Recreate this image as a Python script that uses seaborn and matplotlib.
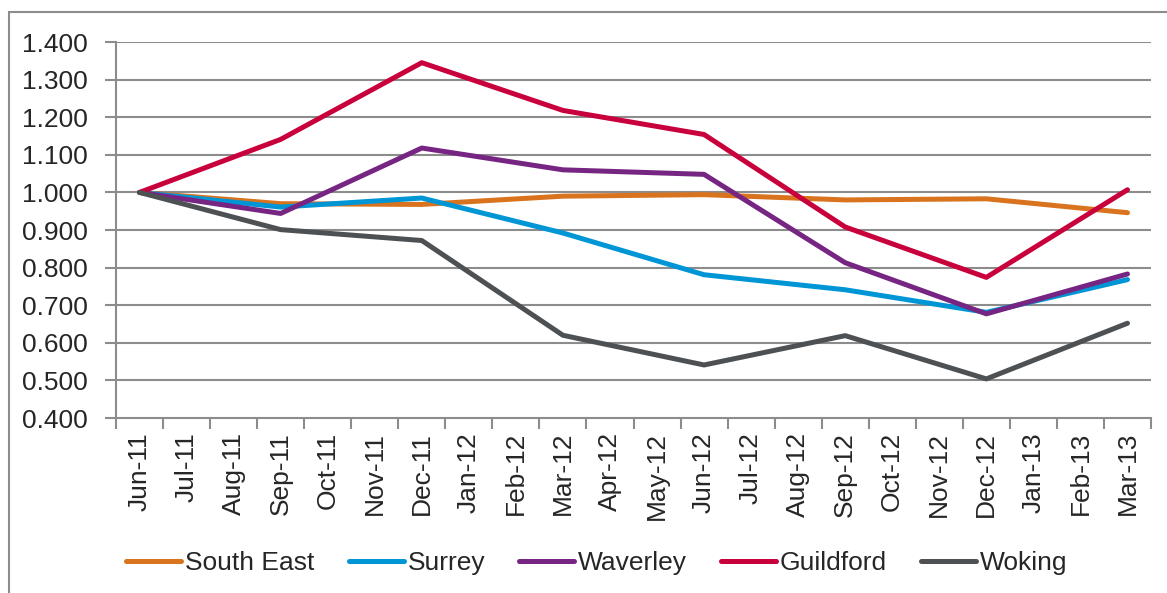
# import libraries
import pandas as pd
import numpy as np
import seaborn as sns
import matplotlib.pyplot as plt
from matplotlib.patches import Rectangle
from matplotlib.ticker import FixedLocator

# monthly category axis, data only every quarter
months = ['Jun-11', 'Jul-11', 'Aug-11', 'Sep-11', 'Oct-11', 'Nov-11', 'Dec-11',
          'Jan-12', 'Feb-12', 'Mar-12', 'Apr-12', 'May-12', 'Jun-12', 'Jul-12',
          'Aug-12', 'Sep-12', 'Oct-12', 'Nov-12', 'Dec-12', 'Jan-13', 'Feb-13', 'Mar-13']
quarters = ['Jun-11', 'Sep-11', 'Dec-11', 'Mar-12', 'Jun-12', 'Sep-12', 'Dec-12', 'Mar-13']

south_east = [1.000, 0.970, 0.968, 0.990, 0.994, 0.980, 0.983, 0.946]
surrey = [1.000, 0.961, 0.985, 0.892, 0.781, 0.741, 0.681, 0.768]
waverley = [1.000, 0.944, 1.118, 1.060, 1.048, 0.813, 0.677, 0.783]
guildford = [1.000, 1.141, 1.345, 1.218, 1.154, 0.908, 0.774, 1.007]
woking = [1.000, 0.901, 0.872, 0.620, 0.541, 0.619, 0.504, 0.652]

series_names = ['South East', 'Surrey', 'Waverley', 'Guildford', 'Woking']
colors = ['#D9731E', '#0096D6', '#772583', '#C8003C', '#4D5154']
y_ticks = [0.4, 0.5, 0.6, 0.7, 0.8, 0.9, 1.0, 1.1, 1.2, 1.3, 1.4]

# long format table for seaborn
rows = []
for name, vals in zip(series_names, [south_east, surrey, waverley, guildford, woking]):
    for q, v in zip(quarters, vals):
        rows.append({'series': name, 'pos': months.index(q), 'value': v})
df = pd.DataFrame(rows)

sns.set_style("white")
plt.rcParams['font.family'] = ['Liberation Sans', 'DejaVu Sans']
fs = 19

fig = plt.figure(figsize=(11.67, 5.93), dpi=100)
ax = fig.add_axes([116 / 1167, 1 - 418 / 593, (1151 - 116) / 1167, (418 - 42) / 593])

grid_col = '#8C8C8C'
for y in y_ticks[1:]:
    ax.axhline(y, color=grid_col, linewidth=1.5, zorder=0)

sns.lineplot(data=df, x='pos', y='value', hue='series', hue_order=series_names,
             palette=colors, linewidth=3.6, ax=ax, legend=True,
             solid_joinstyle='round', solid_capstyle='round')

ax.set_xlim(-0.5, len(months) - 0.5)
ax.set_ylim(0.4, 1.4)
ax.set_xlabel('')
ax.set_ylabel('')

# y axis
ax.set_yticks(y_ticks)
ax.set_yticklabels([f"{t:.3f}" for t in y_ticks])
ax.tick_params(axis='y', which='major', length=8, width=1.5, color=grid_col,
               pad=12, labelsize=fs, left=True)

# x axis: labels at centers, tick marks between categories
ax.set_xticks(range(len(months)))
ax.set_xticklabels(months, rotation=90)
ax.xaxis.set_minor_locator(FixedLocator(np.arange(-0.5, len(months), 1)))
ax.tick_params(axis='x', which='major', length=0, pad=10, labelsize=fs)
ax.tick_params(axis='x', which='minor', length=8, width=1.5, color=grid_col, bottom=True)

for side in ['top', 'right']:
    ax.spines[side].set_visible(False)
for side in ['left', 'bottom']:
    ax.spines[side].set_color(grid_col)
    ax.spines[side].set_linewidth(1.5)

# legend at the bottom
handles, labels = ax.get_legend_handles_labels()
ax.get_legend().remove()
fig.legend(handles, labels, loc='center', bbox_to_anchor=(597 / 1167, 1 - 563 / 593),
           ncol=5, frameon=False, fontsize=fs, handlelength=2.08,
           handletextpad=0.15, columnspacing=1.29)

# outer chart border
fig.patches.append(Rectangle((9 / 1167, -0.1), 1.2, 1.1 - 12 / 593,
                             transform=fig.transFigure, fill=False,
                             edgecolor=grid_col, linewidth=1.5))

fig.savefig('out.png', dpi=100)
